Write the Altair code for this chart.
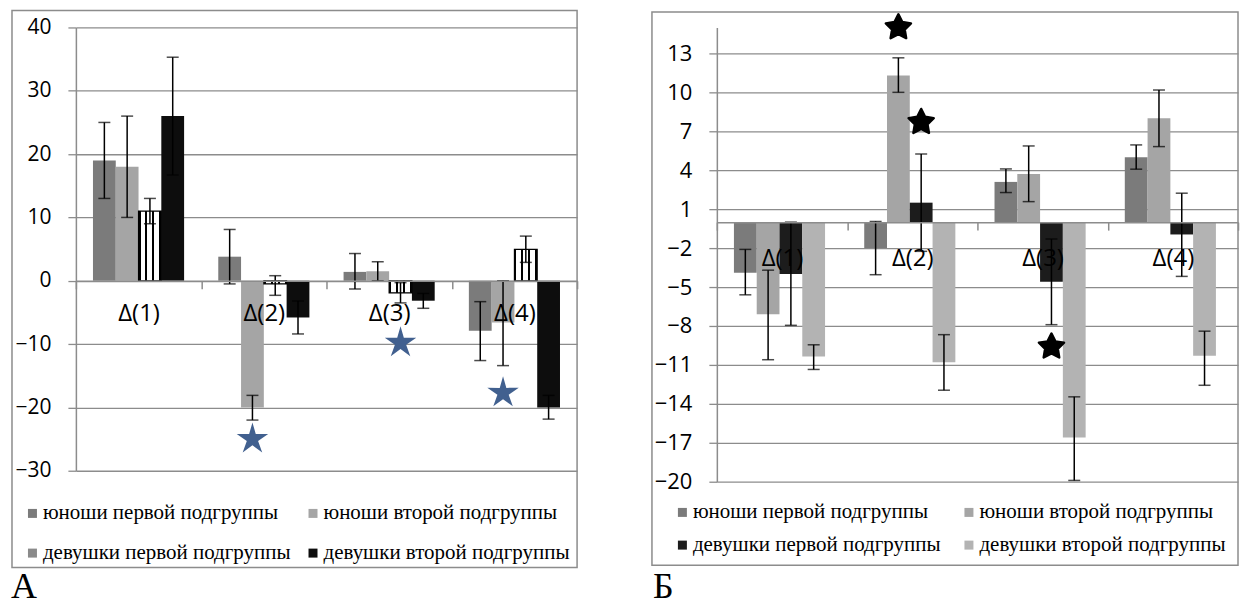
import altair as alt
import pandas as pd

categories = ["Δ(1)", "Δ(2)", "Δ(3)", "Δ(4)"]
series = ["юноши первой подгруппы", "юноши второй подгруппы",
          "девушки первой подгруппы", "девушки второй подгруппы"]

# ---- panel А ----
a_yu1 = [19.0, 3.8, 1.4, -7.9]
a_yu1_lo = [13.0, -0.5, -1.3, -12.6]
a_yu1_hi = [25.0, 8.1, 4.3, -3.3]
a_yu2 = [18.0, -20.0, 1.5, -6.6]
a_yu2_lo = [10.0, -22.0, 0.0, -13.4]
a_yu2_hi = [26.0, -18.1, 3.0, 0.0]
a_de1 = [11.0, -0.5, -1.9, 4.95]
a_de1_lo = [9.0, -2.3, -3.5, 2.9]
a_de1_hi = [13.0, 0.8, -0.3, 7.05]
a_de2 = [26.0, -5.8, -3.15, -20.0]
a_de2_lo = [16.7, -8.4, -4.35, -21.85]
a_de2_hi = [35.3, -3.2, -2.0, -18.1]
a_star_cat = ["Δ(2)", "Δ(3)", "Δ(4)"]
a_star_ser = [series[1], series[2], series[1]]
a_star_val = [-25.0, -9.8, -17.7]
a_ticks = [-30, -20, -10, 0, 10, 20, 30, 40]

# ---- panel Б ----
b_yu1 = [-3.9, -2.0, 3.1, 5.0]
b_yu1_lo = [-5.6, -4.05, 2.28, 4.08]
b_yu1_hi = [-2.1, 0.05, 4.1, 5.95]
b_yu2 = [-7.1, 11.3, 3.7, 8.0]
b_yu2_lo = [-10.6, 10.0, 1.58, 5.82]
b_yu2_hi = [-3.7, 12.66, 5.87, 10.18]
b_de1 = [-4.0, 1.5, -4.6, -0.95]
b_de1_lo = [-7.95, -2.25, -7.9, -4.18]
b_de1_hi = [0.0, 5.25, -1.3, 2.23]
b_de2 = [-10.35, -10.8, -16.6, -10.3]
b_de2_lo = [-11.35, -12.95, -19.9, -12.57]
b_de2_hi = [-9.45, -8.67, -13.46, -8.4]
b_star_cat = ["Δ(2)", "Δ(2)", "Δ(3)"]
b_star_ser = [series[1], series[2], series[2]]
b_star_val = [15.0, 7.7, -9.6]
b_ticks = [-20, -17, -14, -11, -8, -5, -2, 1, 4, 7, 10, 13]

GRID = "#8c8c8c"
SERIF = "Liberation Serif, DejaVu Serif, Times New Roman, serif"
STAR_THIN = ("M0,-1L0.2,-0.3L0.95,-0.31L0.34,0.12L0.59,0.81L0,0.38L-0.59,0.81"
             "L-0.34,0.12L-0.95,-0.31L-0.2,-0.3Z")
STAR_FAT = ("M0,-1L0.294,-0.405L0.951,-0.309L0.476,0.155L0.588,0.809L0,0.5"
            "L-0.588,0.809L-0.476,0.155L-0.951,-0.309L-0.294,-0.405Z")


def stripes(bg, fg, cuts):
    stops = []
    for a, b in cuts:
        stops += [{"offset": a, "color": bg}, {"offset": a, "color": fg},
                  {"offset": b, "color": fg}, {"offset": b, "color": bg}]
    return {"gradient": "linear", "x1": 0, "x2": 1, "y1": 0, "y2": 0, "stops": stops}


GRID_FILL = stripes("white", "black", [(0.0, 0.09), (0.3, 0.39), (0.61, 0.7), (0.91, 1.0)])


def table(vals, los, his):
    rows = []
    for s, v, lo, hi in zip(series, vals, los, his):
        for c, vv, ll, hh in zip(categories, v, lo, hi):
            rows.append({"cat": c, "ser": s, "val": vv, "lo": ll, "hi": hh})
    return pd.DataFrame(rows)


def panel(df, star_df, ticks, domain, width, height, colors, cat_pad,
          tick_font, star_shape, star_color, star_size, star_stroke,
          leg, frame, letter, letter_xy, textured):
    zero_px = height * domain[1] / (domain[1] - domain[0])
    xaxis = alt.Axis(title=None, orient="bottom", offset=zero_px - height, labelAngle=0,
                     labelFont="Open Sans", labelFontSize=24, labelColor="black",
                     labelBaseline="middle", labelPadding=cat_pad, tickBand="extent",
                     tickSize=8, tickColor=GRID, tickWidth=1.5, domainColor=GRID,
                     domainWidth=1.5, zindex=1, grid=False)
    xenc = alt.X("cat:N", sort=categories,
                 scale=alt.Scale(domain=categories, paddingInner=0, paddingOuter=0),
                 axis=xaxis)
    xoff = alt.XOffset("ser:N", sort=series,
                       scale=alt.Scale(domain=series, paddingInner=0, paddingOuter=0.75))
    yscale = alt.Scale(domain=domain, nice=False)
    yaxis = alt.Axis(title=None, values=ticks, grid=True, gridColor=GRID, gridWidth=1.3,
                     domainColor=GRID, domainWidth=1.5, tickColor=GRID, tickWidth=1.3,
                     tickSize=8, labelFont="Open Sans", labelFontSize=tick_font,
                     labelColor="black", labelPadding=17, zindex=0)
    legend = alt.Legend(title=None, orient="none", legendX=leg[0], legendY=leg[1],
                        direction="horizontal", columns=2, columnPadding=leg[2],
                        rowPadding=leg[3],
                        symbolType="square", symbolSize=81, symbolStrokeWidth=0,
                        labelFont=SERIF, labelFontSize=21,
                        labelColor="black", labelLimit=0, padding=0, labelOffset=0)
    bars = alt.Chart(df).mark_bar().encode(
        x=xenc, xOffset=xoff,
        y=alt.Y("val:Q", scale=yscale, axis=yaxis),
        y2=alt.datum(0),
        fill=alt.Fill("ser:N", sort=series,
                      scale=alt.Scale(domain=series, range=colors), legend=legend),
    )
    layers = [bars]
    if textured:
        tex = alt.Chart(df).transform_filter(alt.datum.ser == series[2]).mark_bar(
            fill=GRID_FILL, stroke="black", strokeWidth=1.2).encode(
            x=xenc, xOffset=xoff,
            y=alt.Y("val:Q", scale=yscale, axis=yaxis), y2=alt.datum(0))
        layers.append(tex)
    rules = alt.Chart(df).mark_rule(color="black", strokeWidth=1.5).encode(
        x=xenc, xOffset=xoff,
        y=alt.Y("lo:Q", scale=yscale, axis=yaxis), y2="hi:Q")
    cap_lo = alt.Chart(df).mark_tick(color="black", thickness=1.5, size=12).encode(
        x=xenc, xOffset=xoff, y=alt.Y("lo:Q", scale=yscale, axis=yaxis))
    cap_hi = alt.Chart(df).mark_tick(color="black", thickness=1.5, size=12).encode(
        x=xenc, xOffset=xoff, y=alt.Y("hi:Q", scale=yscale, axis=yaxis))
    stars = alt.Chart(star_df).mark_point(
        shape=star_shape, filled=True, fill=star_color, opacity=1, size=star_size,
        stroke=star_color, strokeWidth=star_stroke, strokeJoin="round").encode(
        x=xenc, xOffset=xoff, y=alt.Y("val:Q", scale=yscale, axis=yaxis))
    one = pd.DataFrame({"k": [0]})
    box = alt.Chart(one).mark_rect(fillOpacity=0, stroke=GRID, strokeWidth=1.5).encode(
        x=alt.value(frame[0]), x2=alt.value(frame[1]),
        y=alt.value(frame[2]), y2=alt.value(frame[3]))
    lab = alt.Chart(one).mark_text(text=letter, font=SERIF, fontSize=36,
                                   align="left", baseline="alphabetic",
                                   color="black").encode(
        x=alt.value(letter_xy[0]), y=alt.value(letter_xy[1]))
    return alt.layer(box, *layers, rules, cap_lo, cap_hi, stars, lab).properties(
        width=width, height=height)


df_a = table([a_yu1, a_yu2, a_de1, a_de2], [a_yu1_lo, a_yu2_lo, a_de1_lo, a_de2_lo],
             [a_yu1_hi, a_yu2_hi, a_de1_hi, a_de2_hi])
df_b = table([b_yu1, b_yu2, b_de1, b_de2], [b_yu1_lo, b_yu2_lo, b_de1_lo, b_de2_lo],
             [b_yu1_hi, b_yu2_hi, b_de1_hi, b_de2_hi])
stars_a = pd.DataFrame({"cat": a_star_cat, "ser": a_star_ser, "val": a_star_val})
stars_b = pd.DataFrame({"cat": b_star_cat, "ser": b_star_ser, "val": b_star_val})

left = panel(df_a, stars_a, a_ticks, [-30, 40], 502, 444,
             ["#7b7b7b", "#a5a5a5", "#8a8a8a", "#0d0d0d"], 25, 21,
             STAR_THIN, "#41608f", 1100, 0,
             (-54, 476, 11, 18), (-64, 502, -17, 541), "А", (-65, 571), True)
right = panel(df_b, stars_b, b_ticks, [-20, 15], 522, 455,
              ["#7b7b7b", "#a5a5a5", "#1c1c1c", "#b3b3b3"], 28, 22,
              STAR_FAT, "black", 700, 2.5,
              (-45, 475, 17, 11), (-65, 522, -15.6, 538.7), "Б", (-64, 571), False)

chart = alt.hconcat(left, right, spacing=140, bounds="flush").resolve_scale(
    fill="independent").resolve_legend(fill="independent").properties(
    padding={"left": 2, "top": 0, "right": 0, "bottom": 0}).configure_view(
    stroke="transparent")

chart.save("out.html", embed_options={"renderer": "svg", "actions": False})
